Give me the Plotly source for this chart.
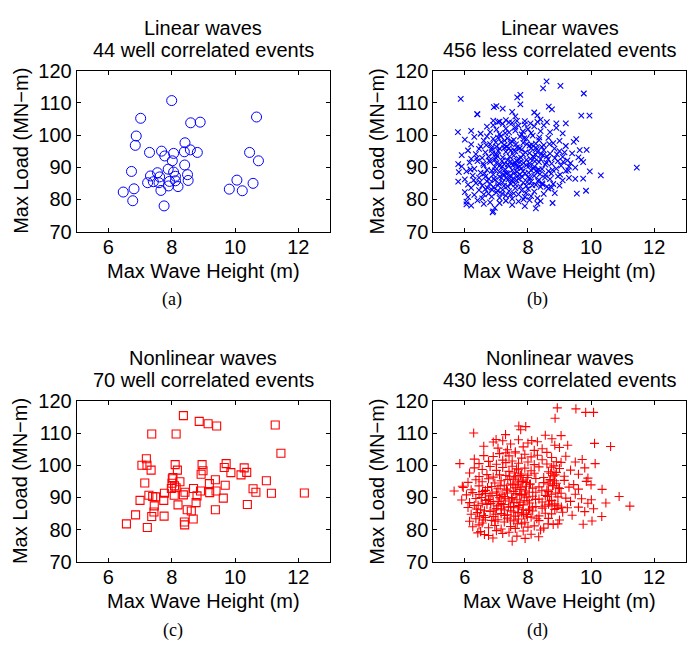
import plotly.graph_objects as go

W, H = 697, 657

# ---------------- data ----------------
# (a) Linear waves, 44 well correlated events
lin_well_x = [8.0, 7.02, 10.68, 8.6, 8.9, 6.88, 6.85, 7.3, 7.68, 7.78, 8.06, 8.02, 8.42, 8.4, 8.59,
              8.81, 10.46, 10.74, 8.41, 6.73, 7.89, 6.47, 6.81, 6.77, 7.76, 9.82, 10.06, 10.23, 10.57, 7.55,
              7.33, 7.62, 7.24, 7.42, 7.6, 7.66, 8.06, 8.12, 7.93, 7.9, 8.2, 8.12, 8.52, 8.5]
lin_well_y = [110.7, 105.2, 105.6, 103.8, 104.0, 99.7, 96.8, 94.6, 95.0, 93.5, 94.3, 92.0, 97.6, 94.8, 95.4,
              94.6, 94.6, 92.0, 90.7, 88.7, 89.4, 82.3, 83.3, 79.6, 78.0, 83.2, 86.0, 82.7, 85.0, 88.3,
              87.3, 87.0, 85.2, 85.5, 85.2, 82.8, 88.5, 87.2, 85.6, 84.2, 84.0, 85.8, 85.9, 87.7]

# (c) Nonlinear waves, 70 well correlated events
nonlin_well_x = [8.37, 8.87, 9.15, 9.42, 11.27, 7.37, 8.14, 11.45, 7.2, 7.06, 7.22, 7.35, 8.11, 8.18, 8.96,
                 8.99, 8.93, 9.72, 9.66, 9.87, 10.29, 10.19, 10.37, 7.15, 8.04, 8.26, 8.01, 8.09, 7.99, 9.38,
                 9.19, 9.2, 9.4, 9.69, 9.63, 10.99, 10.57, 10.66, 11.15, 12.19, 10.39, 8.69, 8.91, 8.8, 8.42,
                 8.37, 8.08, 7.77, 7.75, 7.28, 7.4, 7.49, 7.0, 7.45, 7.44, 7.37, 6.86, 6.57, 7.23, 7.76,
                 8.2, 8.49, 8.62, 8.77, 9.38, 8.68, 8.4, 8.41, 8.02, 8.14]
nonlin_well_y = [115.4, 113.6, 112.9, 112.2, 112.5, 109.7, 109.7, 103.7, 102.0, 100.0, 100.0, 98.5, 100.2, 98.5, 100.2,
                 98.3, 97.2, 100.5, 99.3, 97.7, 99.2, 97.0, 97.8, 94.5, 96.2, 94.9, 94.4, 93.6, 92.8, 95.5,
                 94.3, 91.5, 92.0, 93.8, 89.8, 95.2, 92.7, 91.6, 91.3, 91.4, 87.8, 92.8, 92.0, 90.5, 91.6,
                 90.8, 90.7, 91.3, 89.1, 90.7, 90.3, 90.2, 89.1, 87.4, 85.5, 84.1, 84.6, 81.8, 80.7, 84.2,
                 87.7, 86.2, 85.8, 88.4, 86.2, 83.3, 82.4, 81.5, 95.8, 93.0]

# (b) Linear waves, less correlated events (wave height m, load MN-m)
linear_less = [
    (8.59, 116.7), (8.48, 114.5), (9.03, 115.3), (9.77, 112.9), (5.87, 111.2), (7.76, 112.5), (7.66, 111.7),
    (7.76, 109.5), (6.39, 106.5), (6.92, 108.7), (7.0, 109.0), (8.66, 108.8), (8.76, 108.0), (9.69, 106.0),
    (9.95, 106.0), (5.78, 100.9), (9.53, 98.7), (9.64, 95.3), (9.86, 95.4), (9.69, 92.3), (11.45, 89.9),
    (9.96, 88.7), (10.31, 87.5), (9.5, 86.4), (9.75, 86.5), (9.55, 81.8), (9.84, 82.7), (8.78, 78.9),
    (8.25, 77.2), (6.88, 76.0), (6.05, 78.5), (5.79, 85.5), (5.81, 88.5), (5.79, 91.0),
    (6.4, 106.4), (6.9, 104.5), (7.1, 104.2), (7.3, 104.6), (7.4, 103.9), (7.5, 107.2), (7.6, 105.8),
    (7.9, 104.3), (8.2, 107.0), (8.3, 106.1), (8.4, 104.8), (8.6, 104.0), (8.9, 103.6), (7.2, 108.2),
    (6.2, 101.3), (6.5, 100.4), (6.7, 102.6), (6.8, 100.9), (6.9, 103.1), (7.0, 101.7), (7.1, 100.3),
    (7.2, 103.5), (7.3, 102.0), (7.4, 100.8), (7.5, 103.8), (7.6, 101.4), (7.7, 102.9), (7.8, 100.2),
    (7.9, 103.3), (8.0, 101.8), (8.1, 100.6), (8.2, 102.7), (8.3, 104.1), (8.4, 101.2), (8.5, 103.0),
    (8.7, 100.9), (8.9, 102.2), (9.1, 100.5), (9.2, 103.6), (7.05, 104.0), (7.65, 104.4),
    (6.0, 98.6), (6.2, 97.1), (6.3, 99.4), (6.5, 96.5), (6.6, 98.3), (6.7, 99.6), (6.8, 97.2), (6.9, 98.8),
    (7.0, 96.4), (7.05, 99.2), (7.15, 97.8), (7.25, 96.9), (7.35, 99.0), (7.45, 97.4), (7.55, 98.5),
    (7.65, 96.2), (7.75, 99.5), (7.85, 97.6), (7.95, 98.9), (8.05, 96.7), (8.15, 99.8), (8.25, 97.3),
    (8.35, 98.4), (8.5, 96.9), (8.65, 99.1), (8.8, 97.5), (9.0, 98.2), (9.2, 96.6), (9.45, 97.9),
    (7.4, 95.9), (6.85, 96.0),
    (5.9, 93.8), (6.1, 95.2), (6.2, 92.6), (6.35, 94.1), (6.45, 95.7), (6.55, 92.9), (6.65, 94.6),
    (6.75, 93.3), (6.85, 95.4), (6.95, 92.4), (7.0, 94.0), (7.1, 95.8), (7.2, 93.1), (7.3, 94.8),
    (7.35, 92.2), (7.45, 95.1), (7.55, 93.6), (7.6, 94.9), (7.7, 92.7), (7.8, 95.5), (7.85, 93.9),
    (7.95, 92.3), (8.05, 94.4), (8.1, 95.9), (8.2, 93.0), (8.3, 94.7), (8.4, 92.5), (8.5, 95.3),
    (8.6, 93.4), (8.7, 94.2), (8.85, 92.8), (9.0, 95.0), (9.1, 93.2), (9.25, 92.1), (9.4, 94.3),
    (9.6, 93.1), (7.25, 96.0), (7.65, 92.0), (8.25, 96.1),
    (5.9, 90.3), (6.05, 88.7), (6.15, 91.4), (6.3, 89.5), (6.4, 91.9), (6.5, 88.3), (6.6, 90.6),
    (6.7, 89.2), (6.8, 91.7), (6.85, 88.9), (6.95, 90.1), (7.0, 91.3), (7.1, 88.5), (7.15, 89.8),
    (7.25, 91.0), (7.3, 88.2), (7.4, 90.4), (7.45, 91.8), (7.5, 89.1), (7.6, 90.9), (7.65, 88.6),
    (7.75, 91.5), (7.8, 89.7), (7.9, 88.1), (7.95, 90.6), (8.05, 91.2), (8.1, 89.0), (8.2, 90.2),
    (8.3, 88.4), (8.35, 91.6), (8.45, 89.4), (8.55, 90.8), (8.65, 88.8), (8.75, 91.1), (8.9, 89.6),
    (9.05, 90.5), (9.2, 88.9), (9.35, 91.3), (9.5, 89.9), (9.3, 90.2), (9.75, 91.6), (8.95, 91.9),
    (6.0, 86.2), (6.1, 84.6), (6.25, 87.4), (6.35, 85.1), (6.45, 86.8), (6.55, 84.3), (6.65, 87.1),
    (6.7, 85.6), (6.8, 84.9), (6.9, 87.7), (6.95, 86.0), (7.05, 84.4), (7.1, 87.0), (7.2, 85.3),
    (7.3, 86.6), (7.35, 84.1), (7.45, 87.5), (7.5, 85.8), (7.6, 84.7), (7.7, 86.4), (7.75, 87.8),
    (7.85, 85.2), (7.95, 84.2), (8.0, 86.9), (8.1, 85.5), (8.2, 87.3), (8.25, 84.5), (8.35, 86.1),
    (8.45, 85.0), (8.55, 87.6), (8.6, 84.0), (8.7, 86.3), (8.8, 84.8), (8.95, 87.2), (9.1, 85.9),
    (9.3, 86.7), (9.0, 84.3), (7.55, 88.0),
    (6.0, 82.3), (6.1, 80.7), (6.2, 83.6), (6.3, 81.4), (6.45, 82.9), (6.55, 80.3), (6.65, 83.2),
    (6.75, 81.8), (6.85, 80.9), (6.9, 83.8), (7.0, 82.1), (7.1, 80.5), (7.2, 83.0), (7.3, 81.2),
    (7.4, 82.6), (7.5, 80.2), (7.6, 83.5), (7.7, 81.6), (7.8, 82.8), (7.9, 80.8), (8.0, 83.3),
    (8.1, 81.0), (8.2, 82.4), (8.3, 80.4), (8.4, 83.9), (8.5, 81.7), (8.65, 83.4), (8.75, 83.7),
    (8.85, 82.0), (7.55, 81.9),
    (6.05, 79.3), (6.2, 78.1), (6.4, 79.7), (6.6, 78.6), (6.8, 79.1), (6.95, 77.4), (7.1, 78.9),
    (7.3, 79.6), (7.5, 78.3), (7.7, 79.4), (7.9, 77.9), (8.05, 79.8), (8.3, 78.7), (8.4, 79.5), (6.9, 76.3),
    (7.02, 93.5), (7.12, 90.7), (7.22, 87.9), (7.32, 96.4), (7.42, 93.3), (7.52, 86.4), (7.62, 97.1),
    (7.72, 90.1), (7.82, 86.9), (7.92, 94.6), (8.02, 88.3), (8.12, 97.0), (8.22, 91.8), (8.32, 85.7),
    (8.42, 94.0), (6.92, 86.5), (6.98, 97.7), (7.08, 85.0), (7.18, 92.0), (7.28, 89.3), (7.38, 86.2),
    (7.48, 98.1), (7.58, 91.6), (7.68, 87.3), (7.78, 93.0), (7.88, 99.0), (7.98, 85.4), (8.08, 92.6),
    (8.18, 89.6), (8.28, 95.6), (8.38, 87.9), (8.48, 93.8), (6.78, 92.1), (6.88, 94.3), (6.62, 88.0),
    (8.58, 91.4), (8.68, 97.2), (8.78, 89.2), (8.92, 94.0), (9.12, 91.7),
    (7.06, 95.1), (7.16, 86.7), (7.26, 98.3), (7.36, 90.9), (7.46, 84.8), (7.56, 95.3), (7.66, 89.9),
    (7.76, 84.0), (7.86, 91.3), (7.96, 97.2), (8.06, 86.7), (8.16, 93.4), (8.26, 88.9), (8.36, 99.3),
    (8.46, 84.7), (6.96, 89.0), (6.86, 83.0), (6.76, 86.4), (7.04, 82.7), (7.44, 81.4),
    (6.58, 91.1), (6.68, 96.9), (6.72, 83.6), (6.98, 92.9), (7.14, 99.6), (7.24, 84.2), (7.34, 88.0),
    (7.52, 90.6), (7.64, 85.9), (7.74, 95.9), (7.84, 88.8), (7.94, 82.0), (8.04, 90.4), (8.14, 84.4),
    (8.24, 93.9), (8.34, 89.3), (8.44, 96.3), (8.54, 86.8), (8.64, 92.5), (8.74, 88.0), (8.84, 95.8),
    (9.02, 87.7), (9.16, 94.6), (9.28, 89.0), (6.48, 85.4), (6.38, 92.8), (6.28, 86.0), (6.18, 89.3),
    (7.58, 102.3), (7.84, 101.1), (8.08, 103.6), (7.28, 100.6), (6.6, 81.6), (7.18, 81.8), (7.86, 80.0),
]

# (d) Nonlinear waves, less correlated events
nonlinear_less = [
    (8.93, 117.8), (9.52, 117.5), (9.83, 116.4), (10.08, 116.4), (8.86, 114.6), (7.71, 112.2), (7.93, 112.0),
    (7.77, 111.0), (6.28, 110.0), (7.29, 109.5), (8.55, 109.3), (9.05, 109.2), (8.76, 108.2), (6.99, 108.0),
    (8.12, 107.7), (10.11, 106.8), (10.62, 105.8), (9.26, 106.2), (5.84, 100.5), (10.13, 100.5), (9.72, 101.8),
    (5.66, 92.0), (5.92, 93.5), (10.35, 92.5), (10.89, 90.3), (11.23, 87.3), (10.47, 88.3), (10.01, 89.3),
    (10.08, 86.5), (10.34, 84.1), (10.03, 82.7), (9.75, 81.7), (8.95, 81.8), (8.64, 81.8), (8.34, 77.8),
    (7.91, 77.3), (7.5, 76.4), (6.89, 77.4), (6.62, 78.5), (6.41, 79.0),
    (6.9, 107.2), (7.05, 105.3), (7.2, 107.6), (7.35, 104.8), (7.45, 106.6), (7.6, 104.2), (7.7, 107.9),
    (7.85, 105.7), (8.0, 106.9), (8.2, 104.6), (8.3, 107.3), (8.45, 105.1), (8.6, 104.0), (8.85, 106.2),
    (9.0, 105.5), (6.6, 105.9), (7.3, 103.9),
    (6.3, 101.9), (6.45, 100.5), (6.6, 103.0), (6.75, 101.2), (6.9, 102.7), (7.0, 100.3), (7.1, 103.6),
    (7.2, 101.6), (7.3, 100.8), (7.4, 102.9), (7.5, 101.3), (7.6, 103.8), (7.7, 100.6), (7.8, 102.2),
    (7.9, 103.4), (8.0, 101.0), (8.1, 102.6), (8.2, 100.2), (8.3, 103.1), (8.45, 101.7), (8.6, 100.4),
    (8.75, 102.4), (8.9, 101.1), (9.05, 100.9), (9.2, 102.8), (9.5, 101.0),
    (6.15, 97.6), (6.3, 99.2), (6.45, 96.5), (6.55, 98.7), (6.7, 97.1), (6.8, 99.6), (6.9, 96.3),
    (7.0, 98.4), (7.1, 97.0), (7.2, 99.3), (7.3, 96.8), (7.4, 98.1), (7.5, 99.7), (7.6, 96.4),
    (7.7, 98.6), (7.8, 97.3), (7.9, 99.1), (8.0, 96.9), (8.1, 98.3), (8.2, 97.5), (8.35, 99.5),
    (8.5, 96.2), (8.65, 98.0), (8.75, 99.4), (8.8, 96.7), (8.9, 97.8), (9.0, 99.0), (9.15, 96.6),
    (9.35, 98.5), (9.6, 97.2), (9.8, 99.2), (9.9, 96.0),
    (5.95, 93.1), (6.1, 94.7), (6.2, 92.4), (6.35, 95.5), (6.45, 93.6), (6.55, 94.9), (6.65, 92.2),
    (6.75, 95.8), (6.85, 93.4), (6.95, 94.5), (7.05, 92.7), (7.15, 95.2), (7.25, 93.8), (7.35, 92.1),
    (7.45, 94.2), (7.55, 95.7), (7.6, 93.0), (7.7, 94.8), (7.75, 92.5), (7.85, 95.4), (7.95, 93.5),
    (8.05, 94.1), (8.15, 92.9), (8.25, 95.9), (8.35, 93.3), (8.5, 94.6), (8.6, 92.3), (8.7, 95.1),
    (8.8, 93.7), (8.9, 94.4), (9.0, 92.8), (9.15, 95.3), (9.3, 93.2), (9.45, 94.0), (9.6, 92.6),
    (9.85, 95.0), (10.0, 93.9),
    (5.9, 89.2), (6.05, 90.8), (6.15, 88.4), (6.25, 91.5), (6.35, 89.7), (6.45, 90.9), (6.55, 88.2),
    (6.65, 91.2), (6.75, 89.4), (6.8, 90.5), (6.9, 88.7), (7.0, 91.7), (7.1, 89.9), (7.15, 88.1),
    (7.25, 90.3), (7.35, 91.4), (7.4, 88.9), (7.5, 90.0), (7.55, 91.9), (7.65, 89.3), (7.75, 88.5),
    (7.8, 90.7), (7.9, 91.1), (8.0, 89.0), (8.05, 88.3), (8.15, 90.4), (8.25, 91.6), (8.35, 89.5),
    (8.45, 88.6), (8.55, 90.6), (8.65, 91.8), (8.75, 89.1), (8.85, 88.0), (8.95, 90.2), (9.05, 91.3),
    (9.2, 89.8), (9.35, 88.8), (9.5, 91.0), (9.7, 89.6), (9.9, 88.2),
    (6.1, 86.9), (6.2, 84.8), (6.3, 87.5), (6.4, 85.3), (6.5, 86.2), (6.6, 84.4), (6.7, 87.8),
    (6.8, 85.7), (6.9, 84.1), (7.0, 86.6), (7.05, 87.4), (7.15, 85.0), (7.25, 86.1), (7.35, 84.6),
    (7.45, 87.1), (7.55, 85.5), (7.6, 84.2), (7.7, 86.8), (7.8, 85.2), (7.85, 87.7), (7.95, 84.7),
    (8.05, 86.4), (8.15, 85.8), (8.25, 87.2), (8.35, 84.3), (8.45, 86.7), (8.55, 85.1), (8.65, 87.9),
    (8.75, 84.9), (8.85, 86.3), (8.95, 87.6), (9.1, 85.4), (9.25, 86.8), (9.4, 84.5), (9.6, 87.0),
    (9.8, 85.6),
    (6.15, 82.6), (6.25, 80.9), (6.35, 83.4), (6.45, 81.5), (6.55, 82.1), (6.65, 83.8), (6.75, 80.6),
    (6.85, 82.9), (6.95, 81.3), (7.05, 83.1), (7.15, 80.2), (7.25, 82.4), (7.35, 83.6), (7.45, 81.0),
    (7.55, 82.7), (7.6, 80.4), (7.7, 83.3), (7.8, 81.8), (7.9, 82.3), (8.0, 80.8), (8.1, 83.9),
    (8.2, 81.2), (8.35, 82.8), (8.5, 80.5), (8.65, 83.5), (8.8, 81.6), (9.0, 83.0),
    (6.5, 79.4), (6.75, 78.2), (7.0, 79.7), (7.2, 78.8), (7.4, 79.2), (7.65, 78.0), (7.85, 79.6),
    (8.1, 78.6), (8.4, 79.9),
    (7.42, 96.6), (7.52, 93.9), (7.62, 91.2), (7.72, 87.5), (7.82, 95.0), (7.92, 92.0), (8.02, 86.0),
    (7.48, 89.6), (7.58, 97.6), (7.68, 85.3), (7.78, 93.2), (7.88, 89.0), (7.98, 96.2), (7.38, 87.0),
    (7.32, 92.6), (8.08, 94.2), (8.72, 97.5), (8.78, 93.6), (8.82, 99.8), (8.68, 88.9), (8.88, 91.4),
    (8.92, 86.6), (8.7, 95.6), (8.62, 90.3), (6.52, 90.0), (6.42, 87.6), (6.62, 85.9), (6.72, 93.1),
    (6.82, 88.1), (6.92, 86.1), (7.02, 90.6), (7.12, 93.6), (7.22, 87.8),
    (7.46, 85.9), (7.56, 88.4), (7.66, 94.1), (7.76, 96.8), (7.86, 84.6), (7.96, 90.1), (7.36, 95.6),
    (7.26, 84.4), (8.76, 87.4), (8.84, 95.2), (6.58, 83.0), (6.98, 84.8), (7.18, 91.0),
    (7.54, 87.2), (7.64, 98.9), (7.74, 90.9), (7.84, 86.2), (7.94, 94.7), (8.04, 91.6), (8.14, 87.0),
    (8.24, 89.4), (8.44, 92.1), (8.54, 87.3), (8.64, 94.2), (8.74, 91.0), (8.86, 97.0), (8.96, 93.0),
    (9.06, 87.0), (6.36, 86.4), (6.46, 84.0), (6.56, 91.8), (6.66, 89.1), (6.86, 91.3), (6.96, 82.6),
    (7.06, 88.8), (7.16, 86.4), (7.28, 89.6), (7.44, 83.0), (7.66, 82.0), (7.98, 84.0), (8.28, 83.4),
]

titles_top = ["Linear waves", "Linear waves", "Nonlinear waves", "Nonlinear waves"]
titles_bottom = ["44 well correlated events", "456 less correlated events",
                 "70 well correlated events", "430 less correlated events"]
captions = ["(a)", "(b)", "(c)", "(d)"]
x_label = "Max Wave Height (m)"
y_label = "Max Load (MN\u2212m)"
x_ticks = [6, 8, 10, 12]
y_ticks = [70, 80, 90, 100, 110, 120]

# ---------------- layout geometry (pixels) ----------------
px_left = [76.7, 433.3, 76.7, 433.3]
px_right = [330.0, 685.7, 330.0, 685.7]
px_top = [61.7, 61.7, 403.3, 403.3]
px_bot = [228.3, 228.3, 570.0, 570.0]
cap_x = [172, 537, 173, 537]


def fx(p):
    return p / W


def fy(p):
    return 1 - p / H


SANS = "Liberation Sans, Arial, Helvetica, sans-serif"
SERIF = "Liberation Serif, Times New Roman, serif"
FS = 20

BLUE = "#0000ff"
RED = "#ff0000"

fig = go.Figure()

b_x = [p[0] for p in linear_less]
b_y = [p[1] for p in linear_less]
d_x = [p[0] for p in nonlinear_less]
d_y = [p[1] for p in nonlinear_less]

series = [
    (lin_well_x, lin_well_y, "circle-open", 10, BLUE, 1.0),
    (b_x, b_y, "x-thin-open", 5.5, BLUE, 1.1),
    (nonlin_well_x, nonlin_well_y, "square-open", 8, RED, 1.1),
    (d_x, d_y, "cross-thin-open", 6.5, RED, 1.1),
]

annotations = []
for i, (xs, ys, sym, sz, col, lw) in enumerate(series):
    k = "" if i == 0 else str(i + 1)
    fig.add_trace(go.Scatter(
        x=xs, y=ys, mode="markers", xaxis="x" + k, yaxis="y" + k,
        marker=dict(symbol=sym, size=sz, color=col, line=dict(color=col, width=lw)),
        showlegend=False, hoverinfo="x+y"))
    ax = dict(
        domain=[fx(px_left[i]), fx(px_right[i])], range=[5, 13], tickvals=x_ticks,
        ticks="inside", ticklen=4, tickcolor="black", mirror="ticks", showline=True,
        linecolor="black", linewidth=1, showgrid=False, zeroline=False,
        anchor="y" + k, tickfont=dict(family=SANS, size=FS, color="black"),
        ticklabelstandoff=-3, fixedrange=True)
    ay = dict(
        domain=[fy(px_bot[i]), fy(px_top[i])], range=[70, 120], tickvals=y_ticks,
        ticks="inside", ticklen=4, tickcolor="black", mirror="ticks", showline=True,
        linecolor="black", linewidth=1, showgrid=False, zeroline=False,
        anchor="x" + k, tickfont=dict(family=SANS, size=FS, color="black"),
        fixedrange=True)
    fig.update_layout(**{"xaxis" + k: ax, "yaxis" + k: ay})

    cx = (px_left[i] + px_right[i]) / 2
    cy = (px_top[i] + px_bot[i]) / 2
    off = px_top[i] - 61.7
    annotations += [
        dict(text=titles_top[i], x=fx(cx), y=fy(17.5 + off), xref="paper", yref="paper",
             xanchor="center", yanchor="middle", showarrow=False,
             font=dict(family=SANS, size=FS, color="black")),
        dict(text=titles_bottom[i], x=fx(cx), y=fy(40 + off), xref="paper", yref="paper",
             xanchor="center", yanchor="middle", showarrow=False,
             font=dict(family=SANS, size=FS, color="black")),
        dict(text=x_label, x=fx(cx), y=fy(268.5 + off), xref="paper", yref="paper",
             xanchor="center", yanchor="middle", showarrow=False,
             font=dict(family=SANS, size=FS, color="black")),
        dict(text=y_label, x=fx(px_left[i] - 56), y=fy(cy), xref="paper", yref="paper",
             xanchor="center", yanchor="middle", showarrow=False, textangle=-90,
             font=dict(family=SANS, size=FS, color="black")),
        dict(text=captions[i], x=fx(cap_x[i]), y=fy(299 + off), xref="paper", yref="paper",
             xanchor="center", yanchor="middle", showarrow=False,
             font=dict(family=SERIF, size=18, color="black")),
    ]

fig.update_layout(
    width=W, height=H, margin=dict(l=0, r=0, t=0, b=0),
    paper_bgcolor="white", plot_bgcolor="white",
    annotations=annotations, showlegend=False,
)

fig.write_html("out.html", config={"displayModeBar": False},
               post_script="document.body.style.margin='0';")
